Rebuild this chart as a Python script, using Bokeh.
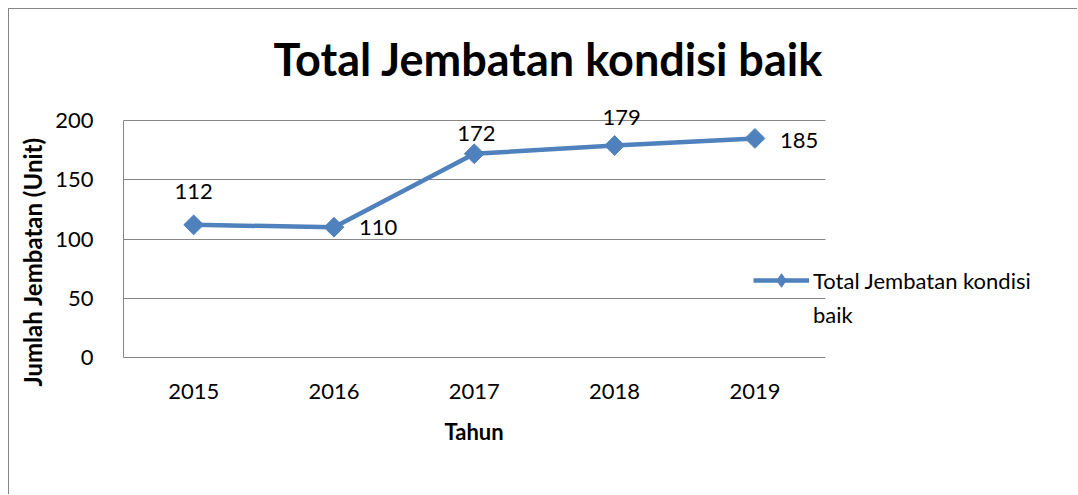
import math
from bokeh.plotting import figure
from bokeh.models import (ColumnDataSource, LabelSet, Legend, LegendItem, Title,
                          Range1d, FixedTicker)
from bokeh.core.properties import value
from bokeh.embed import file_html
from bokeh.resources import INLINE

# ---- data ----
years = [2015, 2016, 2017, 2018, 2019]
totals = [112, 110, 172, 179, 185]
series_name = "Total Jembatan kondisi baik"
chart_title = "Total Jembatan kondisi baik"
x_title = "Tahun"
y_title = "Jumlah Jembatan (Unit)"
y_ticks = [0, 50, 100, 150, 200]

# ---- label placement (style) ----
label_dx = [0, 25, 2, 7, 25]
label_dy = [33, 0, 20, 28, -2]
label_align = ["center", "left", "center", "center", "left"]

FONT = "Lato"
BLUE = "#4F81BD"
GRID = "#868686"

x_lo, x_hi = years[0] - 0.5, years[-1] + 0.5
y_lo, y_hi = y_ticks[0], y_ticks[-1]
# extra room inside the frame (right for the legend, top for labels)
x_room = 1.806
y_room = 17

src = ColumnDataSource(dict(year=years, total=totals,
                            txt=[str(v) for v in totals],
                            dx=label_dx, dy=label_dy, al=label_align))

p = figure(width=1069, height=486, x_range=Range1d(x_lo, x_hi + x_room),
           y_range=Range1d(y_lo, y_hi + y_room), output_backend="svg",
           toolbar_location=None,
           min_border_left=112, min_border_right=0, min_border_top=91,
           min_border_bottom=138)
p.styles = {"margin-left": "8px", "margin-top": "8px",
            "border-left": "1px solid #868686", "border-top": "1px solid #868686"}

p.title = Title(text=chart_title, align="left", offset=150, text_font=FONT,
                text_font_size="45px", text_font_style="bold", text_color="black",
                standoff=30)

ln = p.line(x="year", y="total", source=src, line_width=4.5, line_color=BLUE)
# diamond key for the legend (hidden beneath the rotated-square markers)
key = p.scatter(x="year", y="total", source=src, marker="diamond", size=14,
                fill_color=BLUE, line_color=BLUE)
mk = p.scatter(x="year", y="total", source=src, marker="square", angle=math.pi / 4,
               size=14, fill_color=BLUE, line_color=BLUE)

labels = LabelSet(x="year", y="total", text="txt", source=src, x_offset="dx",
                  y_offset="dy", text_align="al", text_baseline="middle",
                  text_font=value(FONT), text_font_size="22px", text_color="black")
p.add_layout(labels)

# axes
p.xaxis.ticker = FixedTicker(ticks=years)
p.yaxis.ticker = FixedTicker(ticks=y_ticks)
p.xaxis.bounds = (x_lo, x_hi)
p.yaxis.bounds = (y_lo, y_hi)
for ax in (p.xaxis[0], p.yaxis[0]):
    ax.axis_line_color = GRID
    ax.axis_line_width = 1
    ax.major_tick_line_color = None
    ax.minor_tick_line_color = None
    ax.major_label_text_font = FONT
    ax.major_label_text_font_size = "22px"
    ax.major_label_text_color = "black"
p.yaxis.major_label_standoff = 24
p.xaxis.major_label_standoff = 20

xtitle = Title(text=x_title, align="left", offset=321, text_font=FONT,
               text_font_size="22px", text_font_style="bold", text_color="black",
               standoff=29)
p.add_layout(xtitle, "below")

ytitle = Title(text=y_title, align="left", offset=-29, text_font=FONT,
               text_font_size="24px", text_font_style="bold", text_color="black",
               standoff=12)
p.add_layout(ytitle, "left")

p.xgrid.grid_line_color = None
p.ygrid.grid_line_color = GRID
p.ygrid.grid_line_width = 1
p.ygrid.cross_bounds = (x_lo, x_hi)
p.outline_line_color = None

legend = Legend(items=[LegendItem(label="Total Jembatan kondisi", renderers=[ln, key]),
                       LegendItem(label="baik", renderers=[])],
                location=(630, 26), glyph_width=56, glyph_height=34, label_standoff=4,
                padding=0, margin=0, spacing=0, border_line_color=None,
                background_fill_alpha=0, label_text_font=FONT,
                label_text_font_size="22px", label_text_color="black")
p.add_layout(legend)

open("out.html", "w").write(file_html(p, INLINE))
